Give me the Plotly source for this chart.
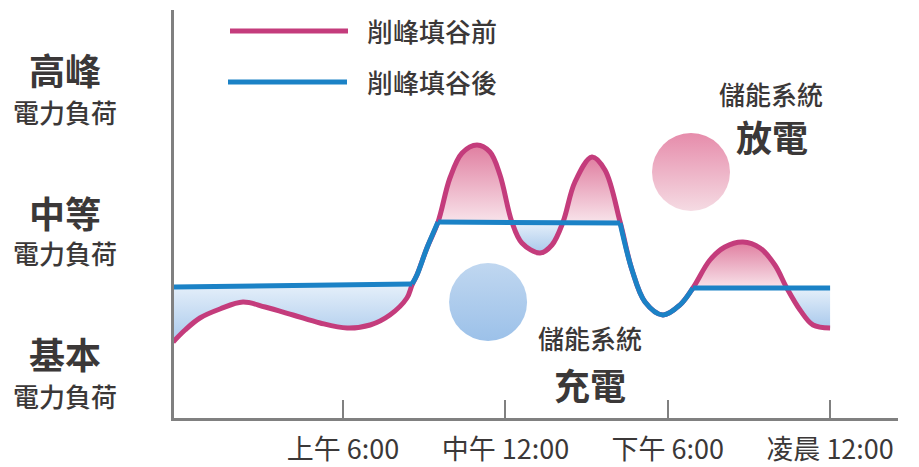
import plotly.graph_objects as go

# ---------------- data (hour of day, relative load) ----------------
before_h = [-0.28, 0.16, 0.71, 1.45, 2.30, 3.12, 4.15, 5.15, 6.15, 7.00, 7.73, 8.36,
            8.55, 8.73, 9.10, 9.51, 9.95, 10.40, 10.95, 11.43, 11.80, 12.24, 12.61,
            13.28, 13.72, 14.13, 14.57, 15.20, 15.68, 16.24, 16.68, 17.16, 17.82,
            18.45, 18.93, 19.56, 20.11, 20.78, 21.41, 21.96, 22.40, 22.89, 23.37, 24.0]
before_load = [19.0, 22.0, 25.0, 27.25, 29.0, 27.75, 25.75, 23.75, 22.5, 23.25, 25.75, 30.0,
               33.25, 35.75, 42.5, 49.0, 60.0, 66.25, 68.25, 66.5, 60.75, 49.0, 43.75,
               41.25, 43.25, 49.0, 59.0, 65.25, 62.0, 49.0, 37.0, 29.0, 25.75,
               28.25, 32.5, 39.5, 42.75, 44.0, 42.5, 38.25, 32.5, 27.0, 23.25, 22.5]

after_h = [-0.25, 8.55, 8.73, 9.10, 9.51, 16.24, 16.68, 17.16, 17.82, 18.45, 18.93, 24.0]
after_load = [32.75, 33.5, 35.75, 42.5, 49.0, 48.75, 37.0, 29.0, 25.75, 28.25, 32.5, 32.5]

tick_hours = [6, 12, 18, 24]
tick_labels = ["上午 6:00", "中午 12:00", "下午 6:00", "凌晨 12:00"]

legend_names = ["削峰填谷前", "削峰填谷後"]
level_titles = ["高峰", "中等", "基本"]
level_sub = "電力負荷"

discharge_center = (18.86, 61.5)
charge_center = (11.36, 29.0)

# ---------------- style ----------------
MAG = "#c43c7c"
BLUE = "#1b82c6"
GRAY = "#808080"
TXT = "#3b3838"
FONT = "Noto Sans CJK TC"
PINK_SCALE = [[0, "#f8e3ea"], [1, "#e07ea0"]]
BLUE_SCALE = [[0, "#a9c9ec"], [1, "#e6f0fa"]]

fig = go.Figure()

def idx(arr, v):
    return min(range(len(arr)), key=lambda i: abs(arr[i] - v))

def seg(h_arr, l_arr, a, b):
    i, j = idx(h_arr, a), idx(h_arr, b)
    return h_arr[i:j + 1], l_arr[i:j + 1]

def flat(a, b, level):
    return [a, b], [level, level]

def add_fill(lower, upper, lower_spline, upper_spline, scale):
    fig.add_trace(go.Scatter(x=lower[0], y=lower[1], mode="lines",
                             line=dict(width=0, shape="spline" if lower_spline else "linear"),
                             hoverinfo="skip", showlegend=False))
    fig.add_trace(go.Scatter(x=upper[0], y=upper[1], mode="lines",
                             line=dict(width=0, shape="spline" if upper_spline else "linear"),
                             fill="tonexty",
                             fillgradient=dict(type="vertical", colorscale=scale),
                             hoverinfo="skip", showlegend=False))

# crossing hours
c0, c1, c2, c3, c4, c5, c6 = 8.55, 9.51, 12.24, 14.13, 16.24, 18.93, 22.40

add_fill(seg(before_h, before_load, -0.28, c0),
         ([after_h[0], after_h[1]], [after_load[0], after_load[1]]), True, False, BLUE_SCALE)
add_fill(flat(c1, c2, 49.0), seg(before_h, before_load, c1, c2), False, True, PINK_SCALE)
add_fill(seg(before_h, before_load, c2, c3), flat(c2, c3, 49.0), True, False, BLUE_SCALE)
add_fill(flat(c3, c4, 49.0), seg(before_h, before_load, c3, c4), False, True, PINK_SCALE)
add_fill(flat(c5, c6, 32.5), seg(before_h, before_load, c5, c6), False, True, PINK_SCALE)
add_fill(seg(before_h, before_load, c6, 24.0), flat(c6, 24.0, 32.5), True, False, BLUE_SCALE)

# storage circles (marker colour at top, gradient colour at bottom)
fig.add_trace(go.Scatter(x=[discharge_center[0]], y=[discharge_center[1]], mode="markers",
                         marker=dict(size=78, color="#e68cab", line=dict(width=0),
                                     gradient=dict(type="vertical", color="#f5dbe3")),
                         hoverinfo="skip", showlegend=False))
fig.add_trace(go.Scatter(x=[charge_center[0]], y=[charge_center[1]], mode="markers",
                         marker=dict(size=78, color="#c0d7f0", line=dict(width=0),
                                     gradient=dict(type="vertical", color="#9cc1e9")),
                         hoverinfo="skip", showlegend=False))

fig.add_trace(go.Scatter(x=before_h, y=before_load, mode="lines",
                         line=dict(color=MAG, width=5, shape="spline", smoothing=1),
                         hoverinfo="skip", showlegend=False))
pieces = [(0, 1, "linear"), (1, 4, "spline"), (4, 5, "linear"), (5, 10, "spline"), (10, 11, "linear")]
for a, b, shp in pieces:
    fig.add_trace(go.Scatter(x=after_h[a:b + 1], y=after_load[a:b + 1], mode="lines",
                             line=dict(color=BLUE, width=5, shape=shp),
                             hoverinfo="skip", showlegend=False))

W, H = 919, 467
L, R, T, B = 174, 21, 10, 49
pw, ph = W - L - R, H - T - B

def px(x):
    return (x - L) / pw

def py(y):
    return (H - B - y) / ph

ann = []
def text(t, x, y, size, anchor="center", weight="normal"):
    ann.append(dict(text=t, x=px(x), y=py(y), xref="paper", yref="paper",
                    xanchor=anchor, yanchor="middle", showarrow=False,
                    font=dict(family=FONT, size=size, color=TXT, weight=weight)))

level_y = [(69, 111), (212, 252), (353, 395)]
for t, (y1, y2) in zip(level_titles, level_y):
    text(t, 65, y1, 36, weight="bold")
    text(level_sub, 65, y2, 26, weight=500)

text(legend_names[0], 365, 30, 26, anchor="left", weight=500)
text(legend_names[1], 365, 81, 26, anchor="left", weight=500)
text("儲能系統", 771, 93, 26, weight=500)
text("放電", 772, 136, 36, weight="bold")
text("儲能系統", 590, 337, 26, weight=500)
text("充電", 590, 384, 36, weight="bold")

shapes = [
    dict(type="line", xref="paper", yref="paper", x0=px(230), x1=px(348), y0=py(31), y1=py(31),
         line=dict(color=MAG, width=5)),
    dict(type="line", xref="paper", yref="paper", x0=px(228), x1=px(347), y0=py(82), y1=py(82),
         line=dict(color=BLUE, width=5)),
]

fig.update_layout(
    width=W, height=H,
    margin=dict(l=L, r=R, t=T, b=B, pad=0, autoexpand=False),
    paper_bgcolor="white", plot_bgcolor="white",
    annotations=ann, shapes=shapes, showlegend=False,
    xaxis=dict(range=[-0.248, 26.51], showgrid=False, zeroline=False, automargin=False,
               showline=True, linecolor=GRAY, linewidth=3,
               ticks="inside", ticklen=18, tickwidth=2, tickcolor=GRAY,
               tickvals=tick_hours, ticktext=tick_labels,
               tickfont=dict(family=FONT, size=27, color=TXT), ticklabelstandoff=6),
    yaxis=dict(range=[0, 102], showgrid=False, zeroline=False, automargin=False,
               showline=True, linecolor=GRAY, linewidth=3,
               showticklabels=False, ticks=""),
)

fig.write_html("out.html")
